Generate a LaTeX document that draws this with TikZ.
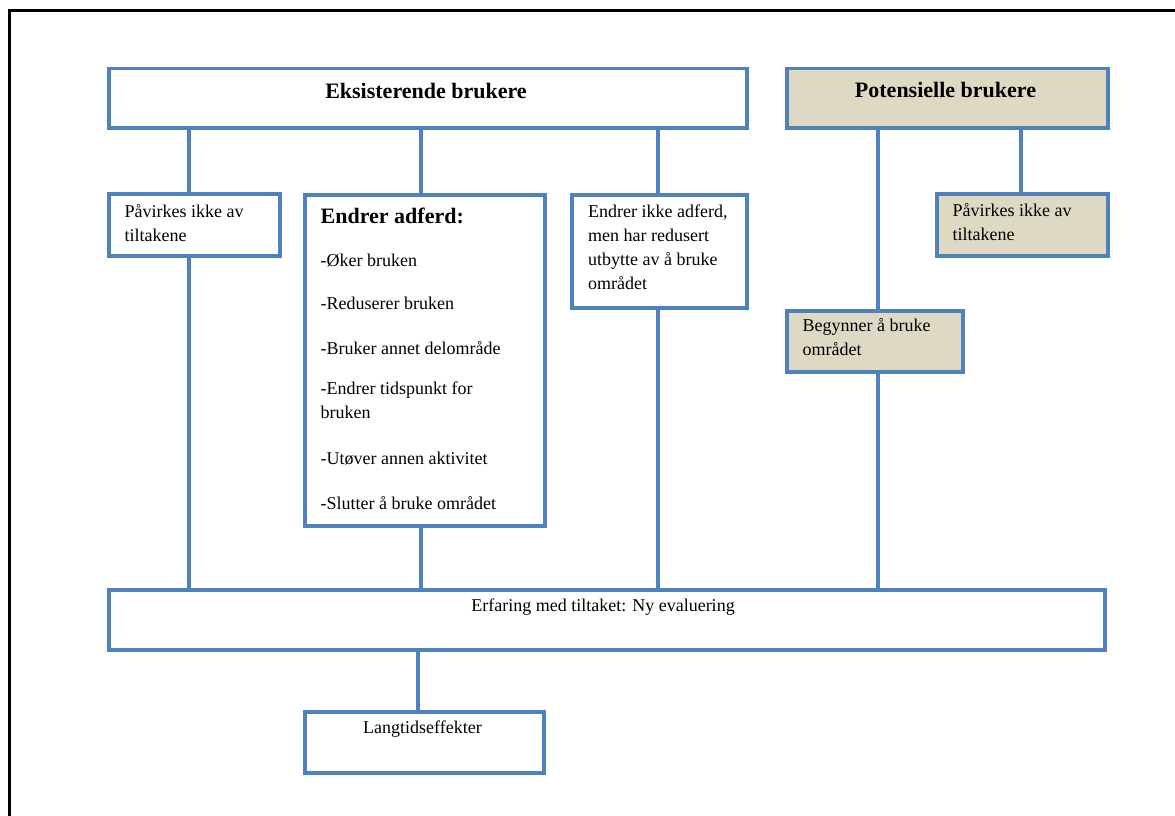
\documentclass[tikz,border=0pt]{standalone}
\usepackage{fontspec}
\setmainfont{Liberation Serif}
\definecolor{lineblue}{HTML}{4F81BD}
\definecolor{tanfill}{HTML}{DDD9C3}

\begin{document}
\begin{tikzpicture}[x=1pt,y=-1pt,
  box/.style={draw=lineblue, line width=3.5pt, rectangle, inner sep=0pt,
              anchor=north west, fill=white},
  tanbox/.style={box, fill=tanfill},
  conn/.style={draw=lineblue, line width=4pt},
  txt/.style={anchor=base west, inner sep=0pt, font=\fontsize{18}{24}\selectfont},
  ctxt/.style={anchor=base, inner sep=0pt, font=\fontsize{18}{24}\selectfont},
  head/.style={anchor=base, inner sep=0pt, font=\fontsize{22}{26}\selectfont\bfseries},
]
\useasboundingbox (0,0) rectangle (1175,816);

% page frame
\draw[black, line width=2.6pt] (9.7,816) -- (9.7,10.5) -- (1175,10.5);

% boxes
\node[box, minimum width=638pt, minimum height=59pt] (eks) at (107,67) {};
\node[tanbox, minimum width=321pt, minimum height=59pt] (pot) at (785,67) {};
\node[box, minimum width=171pt, minimum height=62pt] (pav1) at (107,192) {};
\node[box, minimum width=240pt, minimum height=331pt] (adf) at (303,193) {};
\node[box, minimum width=175pt, minimum height=113pt] (ikke) at (570,193) {};
\node[tanbox, minimum width=171pt, minimum height=62pt] (pav2) at (935,192) {};
\node[tanbox, minimum width=176pt, minimum height=61pt] (beg) at (785,309) {};
\node[box, minimum width=996pt, minimum height=60pt] (erf) at (107,588) {};
\node[box, minimum width=239pt, minimum height=61pt] (lang) at (303,710) {};

% connector columns
\coordinate (c1) at (189,0);
\coordinate (c2) at (421,0);
\coordinate (c3) at (658,0);
\coordinate (c4) at (878,0);
\coordinate (c5) at (1021,0);
\coordinate (c6) at (418,0);

\draw[conn] (eks.south -| c1) -- (pav1.north -| c1);
\draw[conn] (pav1.south -| c1) -- (erf.north -| c1);
\draw[conn] (eks.south -| c2) -- (adf.north -| c2);
\draw[conn] (adf.south -| c2) -- (erf.north -| c2);
\draw[conn] (eks.south -| c3) -- (ikke.north -| c3);
\draw[conn] (ikke.south -| c3) -- (erf.north -| c3);
\draw[conn] (pot.south -| c4) -- (beg.north -| c4);
\draw[conn] (beg.south -| c4) -- (erf.north -| c4);
\draw[conn] (pot.south -| c5) -- (pav2.north -| c5);
\draw[conn] (erf.south -| c6) -- (lang.north -| c6);

% texts
\node[head] (teks) at (426,98) {Eksisterende brukere};
\node[head] (tpot) at (945.5,97) {Potensielle brukere};

\node[txt] (tpav1) at (124.5,217) {\parbox[t]{150pt}{\raggedright P\aa virkes ikke av\\tiltakene}};

\node[anchor=base west, inner sep=0pt, font=\fontsize{22}{26}\selectfont\bfseries]
  (tadf) at (320.5,223) {Endrer adferd:};
\node[txt] (tlist) at (320.5,266) {\parbox[t]{215pt}{\raggedright
  -Øker bruken\\[19pt]
  -Reduserer bruken\\[21pt]
  -Bruker annet delområde\\[16pt]
  -Endrer tidspunkt for\\bruken\\[22pt]
  -Utøver annen aktivitet\\[21pt]
  -Slutter å bruke området}};

\node[txt] (tikke) at (588,217) {\parbox[t]{150pt}{\raggedright
  Endrer ikke adferd,\\men har redusert\\utbytte av å bruke\\området}};

\node[txt] (tpav2) at (952.5,216.5) {\parbox[t]{150pt}{\raggedright P\aa virkes ikke av\\tiltakene}};
\node[txt] (tbeg) at (802.5,331.5) {\parbox[t]{160pt}{\raggedright Begynner å bruke\\området}};

\node[ctxt] (terf) at (603,611.5) {Erfaring med tiltaket: Ny evaluering};
\node[ctxt] (tlang) at (422.5,733) {Langtidseffekter};
\end{tikzpicture}
\end{document}
